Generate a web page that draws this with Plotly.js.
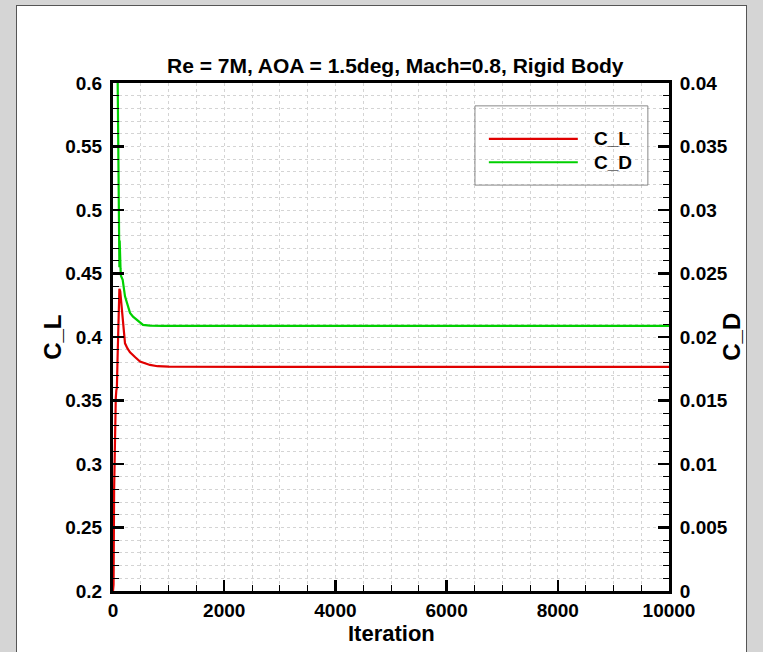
<!DOCTYPE html>
<html><head><meta charset="utf-8">
<script src="https://cdn.plot.ly/plotly-3.0.1.min.js"></script>
<style>
html,body{margin:0;padding:0;background:#d5d5d5;width:763px;height:652px;overflow:hidden;}
#frame{position:absolute;left:16px;top:5px;width:731px;height:650px;background:#fff;border:1px solid #555;box-sizing:border-box;}
#plot{position:absolute;left:0;top:0;width:763px;height:652px;}
</style></head>
<body><div id="frame"></div><div id="plot"></div>
<script>
// Data
const clIter = [0, 10, 20, 35, 50, 60, 70, 80, 95, 105, 115, 130, 155, 185, 216, 260, 306, 400, 486, 665, 800, 1000, 2000, 5000, 10000];
const clVal  = [0.2, 0.205, 0.28, 0.33, 0.352, 0.358, 0.36, 0.38, 0.415, 0.432, 0.438, 0.436, 0.424, 0.408, 0.395, 0.391, 0.388, 0.384, 0.3806, 0.378, 0.377, 0.3766, 0.3764, 0.3764, 0.3764];
const cdIter = [0, 60, 85, 95, 100, 105, 110, 115, 120, 126, 135, 144, 174, 216, 246, 306, 360, 486, 540, 665, 900, 2000, 5000, 10000];
const cdVal  = [0.08, 0.05, 0.04, 0.030, 0.0276, 0.0262, 0.0277, 0.0255, 0.0276, 0.0255, 0.0254, 0.0248, 0.0245, 0.0232, 0.0227, 0.0219, 0.0216, 0.0211, 0.02095, 0.0209, 0.02088, 0.02087, 0.02087, 0.02087];
const titleText = 'Re = 7M, AOA = 1.5deg, Mach=0.8, Rigid Body';
const seriesNames = ['C_L', 'C_D'];
const xTitle = 'Iteration';

const F = 'Liberation Sans, Arial, sans-serif';
const traces = [
  {x: clIter, y: clVal, name: seriesNames[0], type: 'scatter', mode: 'lines', line: {color: '#e00000', width: 2.2}, yaxis: 'y', showlegend: false},
  {x: cdIter, y: cdVal, name: seriesNames[1], type: 'scatter', mode: 'lines', line: {color: '#00d000', width: 2.2}, yaxis: 'y2', showlegend: false}
];
const gridc = '#d4d4d4';
const tf = {family: F, size: 19, weight: 'bold', color: '#000'};
const layout = {
  width: 763, height: 652,
  margin: {l: 113, r: 94, t: 83, b: 61},
  paper_bgcolor: 'rgba(0,0,0,0)', plot_bgcolor: '#fff',
  font: {family: F, size: 19, color: '#000', weight: 'bold'},
  title: {text: titleText, font: {family: F, size: 21, weight: 'bold', color: '#000'}, x: 0.518, xanchor: 'center', y: 0.9, yanchor: 'middle'},
  xaxis: {
    range: [0, 10000], dtick: 2000, tick0: 0, tickformat: 'd', ticks: 'inside', ticklen: 11, tickwidth: 2.5, tickcolor: '#000',
    showline: true, linecolor: '#000', linewidth: 3, mirror: true, zeroline: false,
    showgrid: true, gridcolor: gridc, griddash: 'dot', gridwidth: 1,
    minor: {dtick: 500, ticks: 'inside', ticklen: 6, tickwidth: 1, tickcolor: '#000', showgrid: true, gridcolor: gridc, griddash: 'dot', gridwidth: 1},
    tickfont: tf, ticklabelstandoff: 0
  },
  yaxis: {
    range: [0.2, 0.6], dtick: 0.05, tick0: 0.2, ticks: 'inside', ticklen: 11, tickwidth: 2.5, tickcolor: '#000',
    showline: true, linecolor: '#000', linewidth: 3, zeroline: false,
    showgrid: true, gridcolor: gridc, griddash: 'dot', gridwidth: 1,
    minor: {dtick: 0.01, ticks: 'inside', ticklen: 6, tickwidth: 1, tickcolor: '#000', showgrid: true, gridcolor: gridc, griddash: 'dot', gridwidth: 1},
    tickfont: tf, ticklabelstandoff: 4
  },
  yaxis2: {
    range: [0, 0.04], dtick: 0.005, tick0: 0, overlaying: 'y', side: 'right', ticks: 'inside', ticklen: 11, tickwidth: 2.5, tickcolor: '#000',
    showline: true, linecolor: '#000', linewidth: 3, zeroline: false, showgrid: false,
    minor: {dtick: 0.001, ticks: 'inside', ticklen: 6, tickwidth: 1, tickcolor: '#000', showgrid: false},
    tickfont: tf, ticklabelstandoff: 4
  },
  shapes: [
    {type: 'rect', xref: 'paper', yref: 'paper', x0: 0.651, x1: 0.962, y0: 0.799, y1: 0.955, line: {color: '#888', width: 1}, fillcolor: 'rgba(0,0,0,0)'},
    {type: 'line', xref: 'paper', yref: 'paper', x0: 0.676, x1: 0.836, y0: 0.890, y1: 0.890, line: {color: '#e00000', width: 2.2}},
    {type: 'line', xref: 'paper', yref: 'paper', x0: 0.676, x1: 0.836, y0: 0.844, y1: 0.844, line: {color: '#00d000', width: 2.2}}
  ],
  annotations: [
    {xref: 'paper', yref: 'paper', x: 0.862, y: 0.890, xanchor: 'left', yanchor: 'middle', text: seriesNames[0], showarrow: false, font: {family: F, size: 19, weight: 'bold', color: '#000'}},
    {xref: 'paper', yref: 'paper', x: 0.862, y: 0.844, xanchor: 'left', yanchor: 'middle', text: seriesNames[1], showarrow: false, font: {family: F, size: 19, weight: 'bold', color: '#000'}},
    {xref: 'paper', yref: 'paper', x: 0.5, y: -0.083, xanchor: 'center', yanchor: 'middle', text: xTitle, showarrow: false, font: {family: F, size: 22, weight: 'bold', color: '#000'}},
    {xref: 'paper', yref: 'paper', x: -0.110, y: 0.50, xanchor: 'center', yanchor: 'middle', textangle: -90, text: seriesNames[0], showarrow: false, font: {family: F, size: 24, weight: 'bold', color: '#000'}},
    {xref: 'paper', yref: 'paper', x: 1.111, y: 0.50, xanchor: 'center', yanchor: 'middle', textangle: -90, text: seriesNames[1], showarrow: false, font: {family: F, size: 24, weight: 'bold', color: '#000'}}
  ]
};
Plotly.newPlot('plot', traces, layout, {displayModeBar: false, staticPlot: true});
</script></body></html>
